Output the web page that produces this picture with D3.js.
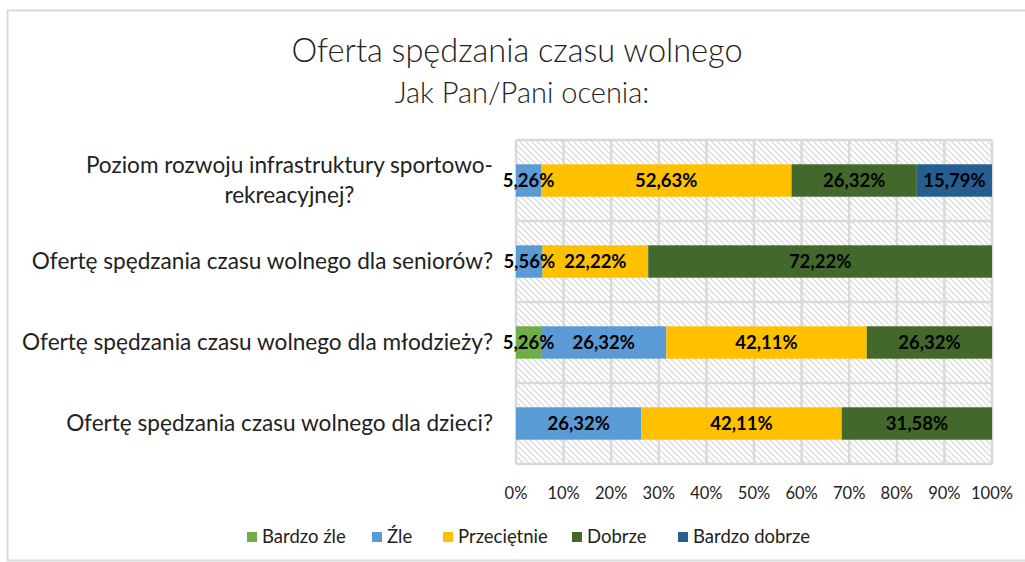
<!DOCTYPE html>
<html>
<head>
<meta charset="utf-8">
<script src="https://cdn.jsdelivr.net/npm/d3@7"></script>
<style>
  body { margin: 0; background: #fff; }
  svg text { font-family: Lato, "Open Sans", sans-serif; fill: #222; }
</style>
</head>
<body>
<svg id="chart"></svg>
<script>
// data
const questions = [
  ["Poziom rozwoju infrastruktury sportowo-", "rekreacyjnej?"],
  ["Ofertę spędzania czasu wolnego dla seniorów?"],
  ["Ofertę spędzania czasu wolnego dla młodzieży?"],
  ["Ofertę spędzania czasu wolnego dla dzieci?"]
];
const answers = ["Bardzo źle", "Źle", "Przeciętnie", "Dobrze", "Bardzo dobrze"];
const bardzoZle    = [0,    0,     5.26,  0];
const zle          = [5.26, 5.56,  26.32, 26.32];
const przecietnie  = [52.63, 22.22, 42.11, 42.11];
const dobrze       = [26.32, 72.22, 26.32, 31.58];
const bardzoDobrze = [15.79, 0,     0,     0];
const xTicks = [0, 10, 20, 30, 40, 50, 60, 70, 80, 90, 100];
const colors = ["#70ad47", "#5b9bd5", "#ffc000", "#43682b", "#255e91"];

let width      = 1025,
    height     = 562,
    plotLeft   = 516,
    plotRight  = 992,
    plotTop    = 140,
    plotBottom = 464;

let rows = questions.map((q, i) => ({
  id: i,
  lines: q,
  "Bardzo źle": bardzoZle[i],
  "Źle": zle[i],
  "Przeciętnie": przecietnie[i],
  "Dobrze": dobrze[i],
  "Bardzo dobrze": bardzoDobrze[i]
}));

let svg = d3.select('#chart')
            .attr('width', width)
            .attr('height', height);

// outer frame
svg.append('rect')
   .attr('x', 7.5).attr('y', 10.5)
   .attr('width', 1030).attr('height', 550)
   .attr('fill', '#fff')
   .attr('stroke', '#d9d9d9')
   .attr('stroke-width', 2);

// hatch pattern for plot background
let pat = svg.append('defs').append('pattern')
   .attr('id', 'hatch')
   .attr('patternUnits', 'userSpaceOnUse')
   .attr('width', 6).attr('height', 6);
pat.append('rect').attr('width', 6).attr('height', 6).attr('fill', '#fff');
pat.append('path')
   .attr('d', 'M-1,-1 L7,7 M-4,2 L2,8 M4,-2 L10,4')
   .attr('stroke', '#d6d6d6')
   .attr('stroke-width', 1.2);

let xScale = d3.scaleLinear().domain([0, 100]).range([plotLeft, plotRight]),
    yScale = d3.scaleBand().domain(rows.map(d => d.id)).range([plotTop, plotBottom]).paddingInner(0.6).paddingOuter(0.3),
    stack  = d3.stack().keys(answers)(rows),
    color  = d3.scaleOrdinal().domain(answers).range(colors),
    fmt    = v => d3.format(".2f")(v).replace('.', ',') + '%';

svg.append('rect')
   .attr('x', plotLeft).attr('y', plotTop)
   .attr('width', plotRight - plotLeft).attr('height', plotBottom - plotTop)
   .attr('fill', 'url(#hatch)');

// vertical grid
svg.append('g')
   .selectAll('line')
   .data(xTicks)
   .join('line')
   .attr('x1', d => xScale(d)).attr('x2', d => xScale(d))
   .attr('y1', plotTop).attr('y2', plotBottom)
   .attr('stroke', '#d9d9d9')
   .attr('stroke-width', 2.5);

// horizontal category boundaries
let rowH = (plotBottom - plotTop) / rows.length;
svg.append('g')
   .selectAll('line')
   .data(d3.range(rows.length + 1))
   .join('line')
   .attr('x1', plotLeft).attr('x2', plotRight)
   .attr('y1', i => plotTop + i * rowH)
   .attr('y2', i => plotTop + i * rowH)
   .attr('stroke', '#d9d9d9')
   .attr('stroke-width', 2.5);

// bars
svg.append('g')
   .selectAll('g')
   .data(stack)
   .join('g')
   .attr('fill', d => color(d.key))
   .selectAll('rect')
   .data(d => d)
   .join('rect')
   .attr('x', d => xScale(d[0]))
   .attr('y', d => yScale(d.data.id))
   .attr('width', d => xScale(d[1]) - xScale(d[0]))
   .attr('height', yScale.bandwidth());

// value labels, drawn above all bars
let segs = stack.flatMap(layer => layer.filter(s => s[1] - s[0] > 0));
svg.append('g')
   .selectAll('text')
   .data(segs)
   .join('text')
   .attr('x', d => (xScale(d[0]) + xScale(d[1])) / 2)
   .attr('y', d => yScale(d.data.id) + yScale.bandwidth() / 2)
   .attr('dy', '0.36em')
   .attr('text-anchor', 'middle')
   .attr('font-size', 18.5)
   .attr('font-weight', 'bold')
   .style('fill', '#000')
   .text(d => fmt(d[1] - d[0]));

// x axis tick labels
svg.append('g')
   .selectAll('text')
   .data(xTicks)
   .join('text')
   .attr('x', d => xScale(d))
   .attr('y', 493)
   .attr('dy', '0.35em')
   .attr('text-anchor', 'middle')
   .attr('font-size', 16.5)
   .text(d => d + '%');

// category labels
let catG = svg.append('g')
   .selectAll('g')
   .data(rows)
   .join('g')
   .attr('transform', d => `translate(0, ${yScale(d.id) + yScale.bandwidth() / 2})`);

catG.each(function(d) {
  let g = d3.select(this),
      n = d.lines.length,
      texts = g.selectAll('text')
        .data(d.lines)
        .join('text')
        .attr('y', (l, i) => (i - (n - 1) / 2) * 30)
        .attr('dy', '0.35em')
        .attr('font-size', 22.6)
        .text(l => l),
      w = d3.max(texts.nodes(), t => t.getComputedTextLength());
  texts.attr('x', 493 - w / 2).attr('text-anchor', 'middle');
});

// titles
svg.append('text')
   .attr('x', 517).attr('y', 51)
   .attr('dy', '0.35em')
   .attr('text-anchor', 'middle')
   .attr('font-size', 32.5)
   .attr('font-weight', 300)
   .text('Oferta spędzania czasu wolnego');

svg.append('text')
   .attr('x', 522).attr('y', 93)
   .attr('dy', '0.35em')
   .attr('text-anchor', 'middle')
   .attr('font-size', 29)
   .attr('font-weight', 300)
   .text('Jak Pan/Pani ocenia:');

// legend
let legendX = [247, 372, 443, 572, 678];
let leg = svg.append('g')
   .selectAll('g')
   .data(answers)
   .join('g')
   .attr('transform', (d, i) => `translate(${legendX[i]}, 537)`);

leg.append('rect')
   .attr('x', 0).attr('y', -5)
   .attr('width', 10).attr('height', 10)
   .attr('fill', d => color(d));

leg.append('text')
   .attr('x', 15)
   .attr('dy', '0.35em')
   .attr('font-size', 18.5)
   .text(d => d);
</script>
</body>
</html>
